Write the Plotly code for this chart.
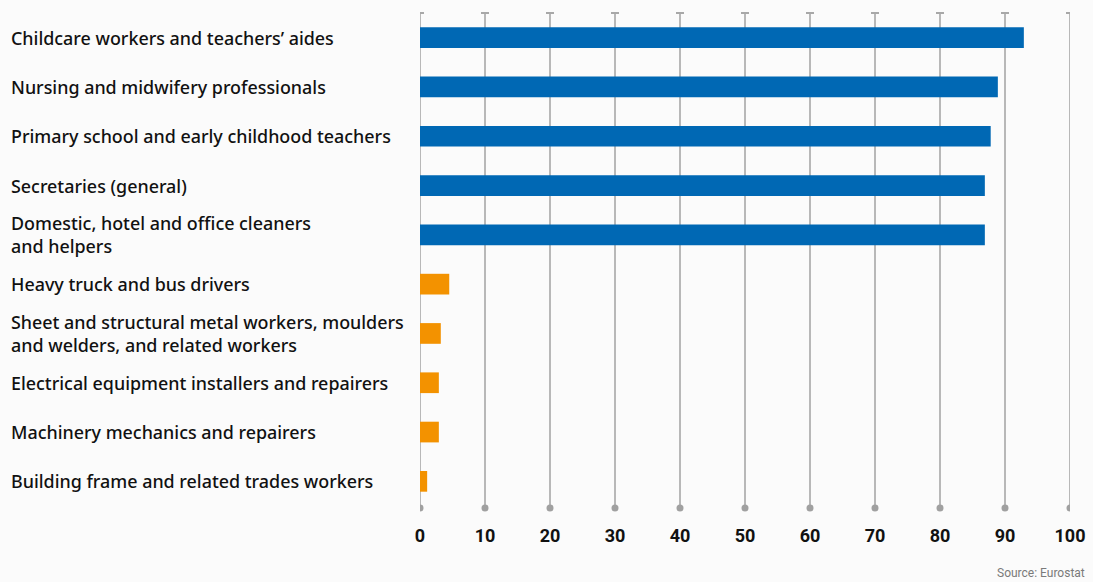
import plotly.graph_objects as go

categories = [
    "Childcare workers and teachers’ aides",
    "Nursing and midwifery professionals",
    "Primary school and early childhood teachers",
    "Secretaries (general)",
    "Domestic, hotel and office cleaners<br>and helpers",
    "Heavy truck and bus drivers",
    "Sheet and structural metal workers, moulders<br>and welders, and related workers",
    "Electrical equipment installers and repairers",
    "Machinery mechanics and repairers",
    "Building frame and related trades workers",
]
values = [92.9, 88.9, 87.8, 86.9, 86.9, 4.5, 3.2, 2.9, 2.9, 1.1]
groups = ["women", "women", "women", "women", "women", "men", "men", "men", "men", "men"]
tick_values = [0, 10, 20, 30, 40, 50, 60, 70, 80, 90, 100]

group_colors = {"women": "#0068b4", "men": "#f39200"}

W, H = 1093, 582
ML, MR, MT, MB = 420, 23, 13, 76

fig = go.Figure()
fig.add_trace(go.Bar(
    y=categories, x=values, orientation="h",
    marker=dict(color=[group_colors[g] for g in groups], line=dict(width=0)),
    hoverinfo="x+y",
))

shapes = []
for t in tick_values:
    shapes.append(dict(type="line", xref="x", yref="paper", x0=t, x1=t, y0=0, y1=1,
                       line=dict(color="#a8a8a8", width=1.6), layer="below"))
    shapes.append(dict(type="line", xref="x", yref="paper", xsizemode="pixel", xanchor=t,
                       x0=-4, x1=4, y0=1, y1=1, line=dict(color="#a8a8a8", width=2), layer="below"))
    shapes.append(dict(type="circle", xref="x", yref="paper", xsizemode="pixel", ysizemode="pixel",
                       xanchor=t, yanchor=0, x0=-3.5, x1=3.5, y0=-5.5, y1=1.5,
                       fillcolor="#a0a0a0", line=dict(width=0), layer="below"))

annotations = []
label_x = (9 - ML) / (W - ML - MR)
for c in categories:
    annotations.append(dict(text=c, xref="paper", yref="y", x=label_x, y=c, xanchor="left",
                            yanchor="middle", align="left", showarrow=False,
                            font=dict(family="Noto Sans", size=17.9, color="#111111", weight=500)))
annotations.append(dict(text="Source: Eurostat", xref="paper", yref="paper",
                        x=(1087 - ML) / (W - ML - MR), y=-(573 - (H - MB)) / (H - MT - MB),
                        xanchor="right", yanchor="middle", showarrow=False,
                        font=dict(family="Roboto", size=12, color="#7a7a7a")))

fig.update_layout(
    width=W, height=H,
    margin=dict(l=ML, r=MR, t=MT, b=MB, autoexpand=False),
    paper_bgcolor="#fbfbfb", plot_bgcolor="rgba(0,0,0,0)",
    bargap=0.58, showlegend=False,
    shapes=shapes, annotations=annotations,
    xaxis=dict(range=[0, 100], tickvals=tick_values, showgrid=False, zeroline=False,
               showline=False, ticks="", ticklabelstandoff=17, automargin=False,
               tickfont=dict(family="Roboto", size=18, color="#111111", weight="bold"),
               fixedrange=True),
    yaxis=dict(autorange="reversed", showticklabels=False, showgrid=False, zeroline=False,
               showline=False, ticks="", fixedrange=True, automargin=False),
)

fig.write_html("out.html", config={"displayModeBar": False},
               post_script="document.body.style.margin='0';document.body.style.overflow='hidden';")
